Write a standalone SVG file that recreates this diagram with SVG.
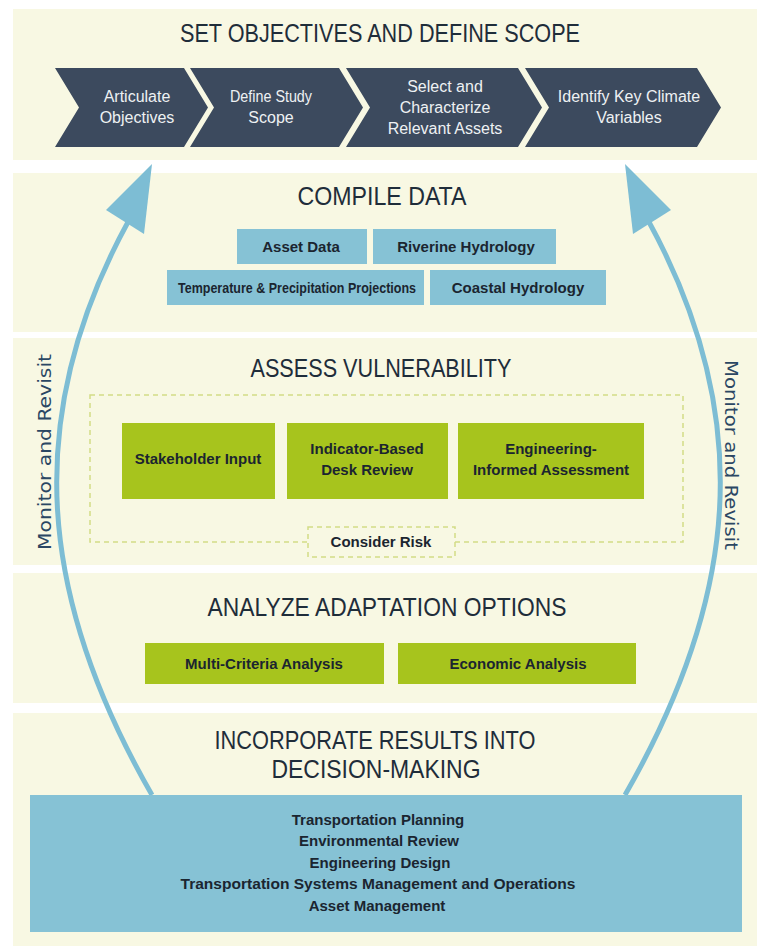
<svg xmlns="http://www.w3.org/2000/svg" width="765" height="946" viewBox="0 0 765 946">
<style>
.band{fill:#f8f8e3}
.title{font-family:"Liberation Sans",Arial,sans-serif;font-size:25px;fill:#1f2d3a;text-anchor:middle}
.chev{fill:#3c4a5e}
.ct{font-family:"Liberation Sans",Arial,sans-serif;font-size:16px;fill:#eef1f3;text-anchor:middle}
.bbox{fill:#86c2d5}
.gbox{fill:#a7c41d}
.bt{font-family:"Liberation Sans",Arial,sans-serif;font-size:15px;font-weight:bold;fill:#1b2530;text-anchor:middle}
.dash{fill:none;stroke:#d2dc86;stroke-width:1.5;stroke-dasharray:5 4}
.arc{fill:none;stroke:#7dbdd4;stroke-width:5}
.head{fill:#7dbdd4}
.mr{font-family:"DejaVu Sans",Verdana,sans-serif;font-size:17px;fill:#2b4763;text-anchor:middle}
</style>
<rect width="765" height="946" fill="#ffffff"/>
<g id="bands">
<rect class="band" x="13" y="9" width="744" height="151"/>
<rect class="band" x="13" y="173" width="744" height="159"/>
<rect class="band" x="13" y="338" width="744" height="227"/>
<rect class="band" x="13" y="573" width="744" height="130"/>
<rect class="band" x="13" y="713" width="744" height="233"/>
</g>
<g id="connectors">
<path class="arc" d="M152,795 C40,600 20,420 128,222"/>
<polygon class="head" points="152,164 106,210 144,234"/>
<path class="arc" d="M625,795 C737,600 757,420 649,222"/>
<polygon class="head" points="625,164 671,210 633,234"/>
</g>
<g id="monitor-left"><text class="mr" transform="translate(51,452) rotate(-90)" textLength="196" lengthAdjust="spacingAndGlyphs">Monitor and Revisit</text></g>
<g id="monitor-right"><text class="mr" transform="translate(725,455) rotate(90)" textLength="190" lengthAdjust="spacingAndGlyphs">Monitor and Revisit</text></g>

<g id="set-objectives">
<text class="title" x="380" y="42" textLength="400" lengthAdjust="spacingAndGlyphs">SET OBJECTIVES AND DEFINE SCOPE</text>
</g>
<g id="articulate-objectives">
<polygon class="chev" points="55,68 184,68 208,107.5 184,147 55,147 79,107.5"/>
<text class="ct" x="137" y="102">Articulate</text>
<text class="ct" x="137" y="123">Objectives</text>
</g>
<g id="define-study-scope">
<polygon class="chev" points="190,68 339,68 363,107.5 339,147 190,147 214,107.5"/>
<text class="ct" x="271" y="102" textLength="82" lengthAdjust="spacingAndGlyphs">Define Study</text>
<text class="ct" x="271" y="123">Scope</text>
</g>
<g id="select-assets">
<polygon class="chev" points="346,68 518,68 542,107.5 518,147 346,147 370,107.5"/>
<text class="ct" x="445" y="92">Select and</text>
<text class="ct" x="445" y="113">Characterize</text>
<text class="ct" x="445" y="134">Relevant Assets</text>
</g>
<g id="identify-variables">
<polygon class="chev" points="525,68 697,68 721,107.5 697,147 525,147 549,107.5"/>
<text class="ct" x="629" y="102">Identify Key Climate</text>
<text class="ct" x="629" y="123">Variables</text>
</g>

<g id="compile-data">
<text class="title" x="382" y="205" textLength="169" lengthAdjust="spacingAndGlyphs">COMPILE DATA</text>
</g>
<g id="asset-data">
<rect class="bbox" x="237" y="229" width="130" height="35"/>
<text class="bt" x="301" y="252">Asset Data</text>
</g>
<g id="riverine-hydrology">
<rect class="bbox" x="373" y="229" width="183" height="35"/>
<text class="bt" x="466" y="252">Riverine Hydrology</text>
</g>
<g id="temp-precip">
<rect class="bbox" x="167" y="270" width="257" height="35"/>
<text class="bt" x="297" y="293" font-size="12.5" textLength="238" lengthAdjust="spacingAndGlyphs">Temperature &amp; Precipitation Projections</text>
</g>
<g id="coastal-hydrology">
<rect class="bbox" x="430" y="270" width="176" height="35"/>
<text class="bt" x="518" y="293">Coastal Hydrology</text>
</g>

<g id="assess-vulnerability">
<text class="title" x="381" y="377" textLength="261" lengthAdjust="spacingAndGlyphs">ASSESS VULNERABILITY</text>
<rect class="dash" x="90" y="395" width="593" height="147"/>
</g>
<g id="stakeholder-input">
<rect class="gbox" x="122" y="423" width="153" height="76"/>
<text class="bt" x="198" y="464">Stakeholder Input</text>
</g>
<g id="indicator-review">
<rect class="gbox" x="287" y="423" width="161" height="76"/>
<text class="bt" x="367" y="454">Indicator-Based</text>
<text class="bt" x="367" y="475">Desk Review</text>
</g>
<g id="engineering-assessment">
<rect class="gbox" x="458" y="423" width="186" height="76"/>
<text class="bt" x="551" y="454">Engineering-</text>
<text class="bt" x="551" y="475">Informed Assessment</text>
</g>
<g id="consider-risk">
<rect x="308" y="527" width="147" height="30" fill="#f8f8e3" stroke="#d2dc86" stroke-width="1.5" stroke-dasharray="5 4"/>
<text class="bt" x="381" y="547" font-size="14">Consider Risk</text>
</g>

<g id="analyze-options">
<text class="title" x="387" y="616" textLength="359" lengthAdjust="spacingAndGlyphs">ANALYZE ADAPTATION OPTIONS</text>
</g>
<g id="multi-criteria">
<rect class="gbox" x="145" y="643" width="239" height="41"/>
<text class="bt" x="264" y="669">Multi-Criteria Analysis</text>
</g>
<g id="economic-analysis">
<rect class="gbox" x="398" y="643" width="238" height="41"/>
<text class="bt" x="518" y="669">Economic Analysis</text>
</g>

<g id="incorporate-results">
<text class="title" x="375" y="749" textLength="321" lengthAdjust="spacingAndGlyphs">INCORPORATE RESULTS INTO</text>
<text class="title" x="376" y="778" textLength="209" lengthAdjust="spacingAndGlyphs">DECISION-MAKING</text>
</g>
<g id="decision-areas">
<rect class="bbox" x="30" y="795" width="712" height="137"/>
<text class="bt" x="378" y="825">Transportation Planning</text>
<text class="bt" x="379" y="846">Environmental Review</text>
<text class="bt" x="380" y="868">Engineering Design</text>
<text class="bt" x="378" y="889" textLength="395" lengthAdjust="spacingAndGlyphs">Transportation Systems Management and Operations</text>
<text class="bt" x="377" y="911">Asset Management</text>
</g>
</svg>
